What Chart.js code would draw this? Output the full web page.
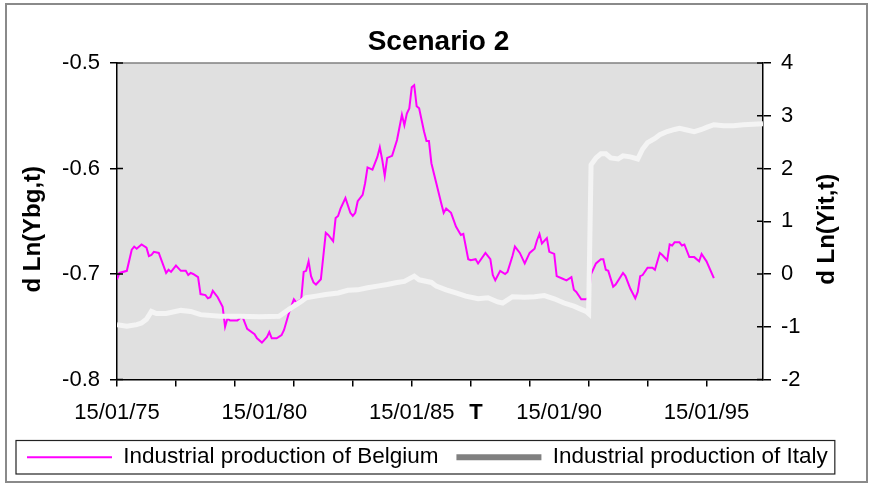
<!DOCTYPE html>
<html>
<head>
<meta charset="utf-8">
<script src="https://cdn.jsdelivr.net/npm/chart.js@4"></script>
<style>
  html, body { margin: 0; padding: 0; background: #fff; }
  canvas { display: block; }
</style>
</head>
<body>
<canvas id="chart" width="870" height="483"></canvas>
<script>
// Months counted from 15/01/75
const beMonth = [
  0, 1, 4, 6, 7, 8, 10, 12, 13, 14,
  15, 17, 20, 21, 22, 24, 26, 28, 29, 30,
  31, 33, 34, 36, 37, 38, 39, 41, 43, 44,
  45, 46, 49, 51, 53, 56, 57, 59, 61, 62,
  63, 65, 67, 68, 70, 72, 73, 75, 76, 77,
  78, 79, 80, 81, 83, 84, 85, 86, 88, 89,
  90, 91, 93, 95, 96, 97, 98, 100, 101, 102,
  104, 106, 107, 108, 109, 110, 112, 114, 116, 117,
  118, 119, 120, 121, 122, 123, 125, 126, 127, 128,
  130, 132, 133, 134, 136, 138, 140, 141, 143, 144,
  146, 147, 150, 152, 153, 154, 156, 158, 159, 161,
  162, 164, 166, 168, 170, 171, 172, 173, 175, 176,
  178, 179, 181, 183, 185, 186, 187, 189, 191, 192,
  193, 195, 197, 198, 199, 200, 202, 203, 206, 207,
  209, 211, 212, 213, 214, 216, 218, 219, 221, 222,
  224, 225, 226, 227, 229, 230, 231, 233, 235, 237,
  238, 240, 243
];
const beValue = [
  -0.705, -0.699, -0.697, -0.677, -0.674, -0.676, -0.672, -0.675, -0.683, -0.682,
  -0.679, -0.680, -0.699, -0.696, -0.698, -0.692, -0.697, -0.697, -0.701, -0.699,
  -0.700, -0.703, -0.719, -0.720, -0.723, -0.722, -0.716, -0.722, -0.731, -0.750,
  -0.742, -0.744, -0.744, -0.740, -0.752, -0.757, -0.761, -0.765, -0.760, -0.755,
  -0.761, -0.761, -0.758, -0.753, -0.737, -0.724, -0.727, -0.724, -0.698, -0.697,
  -0.688, -0.702, -0.708, -0.710, -0.705, -0.683, -0.661, -0.663, -0.669, -0.647,
  -0.645, -0.638, -0.628, -0.642, -0.645, -0.642, -0.631, -0.625, -0.614, -0.599,
  -0.601, -0.589, -0.580, -0.592, -0.607, -0.590, -0.588, -0.573, -0.549, -0.559,
  -0.548, -0.543, -0.523, -0.521, -0.541, -0.543, -0.565, -0.574, -0.574, -0.595,
  -0.614, -0.633, -0.642, -0.638, -0.642, -0.655, -0.663, -0.662, -0.686, -0.687,
  -0.686, -0.690, -0.680, -0.686, -0.701, -0.706, -0.697, -0.700, -0.698, -0.683,
  -0.674, -0.680, -0.690, -0.680, -0.676, -0.668, -0.662, -0.671, -0.666, -0.679,
  -0.681, -0.702, -0.704, -0.706, -0.703, -0.715, -0.717, -0.724, -0.724, -0.722,
  -0.700, -0.690, -0.686, -0.686, -0.696, -0.697, -0.712, -0.710, -0.699, -0.702,
  -0.714, -0.723, -0.717, -0.702, -0.701, -0.694, -0.694, -0.696, -0.680, -0.682,
  -0.687, -0.672, -0.673, -0.670, -0.670, -0.673, -0.672, -0.684, -0.684, -0.688,
  -0.681, -0.688, -0.704
];

const itMonth = [
  0, 4, 8, 10, 12, 14, 16, 20, 26, 30,
  34, 42, 50, 58, 66, 70, 75, 77, 81, 85,
  90, 94, 98, 102, 106, 110, 114, 117, 121, 123,
  128, 130, 134, 138, 142, 147, 151, 155, 157, 161,
  166, 170, 174, 178, 182, 186, 189, 191, 192, 193,
  195, 197, 199, 201, 204, 206, 209, 212, 214, 216,
  219, 221, 224, 227, 229, 232, 235, 238, 240, 243,
  247, 251, 255, 259, 263
];
const itValue = [
  -0.96, -0.99, -0.96, -0.93, -0.86, -0.71, -0.75, -0.75, -0.69, -0.71,
  -0.77, -0.80, -0.80, -0.81, -0.80, -0.67, -0.52, -0.45, -0.42, -0.39,
  -0.36, -0.31, -0.30, -0.26, -0.23, -0.20, -0.16, -0.14, -0.04, -0.11,
  -0.16, -0.23, -0.30, -0.36, -0.42, -0.47, -0.45, -0.53, -0.55, -0.43,
  -0.44, -0.43, -0.41, -0.47, -0.55, -0.61, -0.67, -0.71, -0.75, 2.07,
  2.20, 2.28, 2.28, 2.20, 2.18, 2.24, 2.22, 2.18, 2.37, 2.49,
  2.57, 2.64, 2.70, 2.74, 2.76, 2.73, 2.70, 2.74, 2.78, 2.83,
  2.81, 2.81, 2.83, 2.84, 2.85
];

// x axis: tick marks every two years, labels every five
const markMonths = [0, 24, 48, 72, 96, 120, 144, 168, 192, 216, 240];
const labelMonths = [0, 60, 120, 180, 240];
const xLabels = ['15/01/75', '15/01/80', '15/01/85', '15/01/90', '15/01/95'];

const seriesNames = ['Industrial production of Belgium', 'Industrial production of Italy'];
const legendColors = ['#ff00ff', '#808080'];
const legendWidths = [2, 6];

const FONT = '"Liberation Sans", Arial, Helvetica, sans-serif';
Chart.defaults.font.family = FONT;
Chart.defaults.color = '#000';

function toPoints(months, values) {
    return months.map((m, i) => ({ x: m, y: values[i] }));
}

// Plot background, frame, axis titles and legend box
const decorations = {
    id: 'decorations',
    beforeDraw(chart) {
        const { ctx, chartArea: a } = chart;
        ctx.save();
        ctx.fillStyle = '#fff';
        ctx.fillRect(0, 0, chart.width, chart.height);
        ctx.fillStyle = '#e0e0e0';
        ctx.fillRect(a.left, a.top, a.width, a.height);
        ctx.strokeStyle = '#808080';
        ctx.lineWidth = 1.5;
        ctx.beginPath();
        ctx.moveTo(a.left, a.top);
        ctx.lineTo(a.right, a.top);
        ctx.stroke();
        ctx.strokeStyle = '#8a8a8a';
        ctx.lineWidth = 2;
        ctx.strokeRect(6, 4, 861, 478);
        ctx.restore();
    },
    afterDraw(chart) {
        const { ctx, chartArea: a, scales } = chart;
        ctx.save();

        // inner half of the y tick marks
        ctx.strokeStyle = '#000';
        ctx.lineWidth = 1.5;
        ctx.beginPath();
        scales.y.ticks.forEach(t => {
            const py = scales.y.getPixelForValue(t.value);
            ctx.moveTo(a.left, py);
            ctx.lineTo(a.left + 6, py);
        });
        scales.y2.ticks.forEach(t => {
            const py = scales.y2.getPixelForValue(t.value);
            ctx.moveTo(a.right - 6, py);
            ctx.lineTo(a.right, py);
        });
        ctx.stroke();

        // axis titles
        ctx.fillStyle = '#000';
        ctx.textAlign = 'center';
        ctx.textBaseline = 'middle';
        ctx.font = 'bold 24px ' + FONT;
        const midY = (a.top + a.bottom) / 2 + 8;
        [[33, 'd Ln(Ybg,t)'], [827, 'd Ln(Yit,t)']].forEach(([x, text]) => {
            ctx.save();
            ctx.translate(x, midY);
            ctx.rotate(-Math.PI / 2);
            ctx.fillText(text, 0, 0);
            ctx.restore();
        });
        ctx.font = 'bold 22px ' + FONT;
        ctx.fillText('T', 476, 413);

        // box around the legend
        const boxes = chart.legend.legendHitBoxes;
        const first = boxes[0];
        const last = boxes[boxes.length - 1];
        ctx.strokeStyle = '#222';
        ctx.lineWidth = 1.2;
        ctx.strokeRect(first.left - 11, first.top - 5.5,
            last.left + last.width - first.left + 18, first.height + 11);
        ctx.restore();
    }
};

const chart = new Chart(document.getElementById('chart'), {
    type: 'line',
    data: {
        datasets: [
            {
                label: seriesNames[0],
                data: toPoints(beMonth, beValue),
                yAxisID: 'y',
                borderColor: '#ff00ff',
                borderWidth: 2,
                pointRadius: 0,
                tension: 0,
                order: 1
            },
            {
                label: seriesNames[1],
                data: toPoints(itMonth, itValue),
                yAxisID: 'y2',
                borderColor: '#f4f4f4',
                borderWidth: 5,
                pointRadius: 0,
                tension: 0,
                order: 0
            }
        ]
    },
    options: {
        responsive: false,
        animation: false,
        events: [],
        layout: { padding: { left: 9, right: 2, top: 0, bottom: 4.5 } },
        plugins: {
            title: {
                display: true,
                text: 'Scenario 2',
                color: '#000',
                font: { size: 28, weight: 'bold' },
                padding: { top: 25.2, bottom: 4.2 }
            },
            legend: {
                position: 'bottom',
                align: 'start',
                labels: {
                    usePointStyle: true,
                    pointStyleWidth: 85,
                    padding: 18,
                    color: '#000',
                    font: { size: 22.5 },
                    generateLabels: chart => chart.data.datasets.map((ds, i) => ({
                        text: ds.label,
                        datasetIndex: i,
                        pointStyle: 'line',
                        strokeStyle: legendColors[i],
                        fillStyle: legendColors[i],
                        lineWidth: legendWidths[i],
                        hidden: false
                    }))
                }
            },
            tooltip: { enabled: false }
        },
        scales: {
            x: {
                type: 'linear',
                position: 'bottom',
                min: 0,
                max: 263,
                afterBuildTicks: scale => {
                    const all = Array.from(new Set([...markMonths, ...labelMonths])).sort((p, q) => p - q);
                    scale.ticks = all.map(v => ({ value: v }));
                },
                afterFit: scale => { scale.height = 48.5; },
                grid: {
                    drawOnChartArea: false,
                    tickLength: 7,
                    lineWidth: 1.5,
                    color: ctx => (ctx.tick && markMonths.includes(ctx.tick.value)) ? '#000' : 'rgba(0,0,0,0)'
                },
                border: { color: '#000', width: 1.5 },
                ticks: {
                    autoSkip: false,
                    maxRotation: 0,
                    padding: 13,
                    font: { size: 22 },
                    callback: value => {
                        const i = labelMonths.indexOf(value);
                        return i >= 0 ? xLabels[i] : '';
                    }
                }
            },
            y: {
                position: 'left',
                min: -0.8,
                max: -0.5,
                afterFit: scale => { scale.width = 108; },
                grid: { drawOnChartArea: false, tickLength: 7, lineWidth: 1.5, color: '#000' },
                border: { color: '#000', width: 1.5 },
                ticks: {
                    stepSize: 0.1,
                    padding: 10,
                    font: { size: 22 },
                    callback: v => v.toFixed(1)
                }
            },
            y2: {
                position: 'right',
                min: -2,
                max: 4,
                afterFit: scale => { scale.width = 105; },
                grid: { drawOnChartArea: false, tickLength: 8, lineWidth: 1.5, color: '#000' },
                border: { color: '#000', width: 1.5 },
                ticks: {
                    stepSize: 1,
                    padding: 10,
                    font: { size: 22 }
                }
            }
        }
    },
    plugins: [decorations]
});
</script>
</body>
</html>
